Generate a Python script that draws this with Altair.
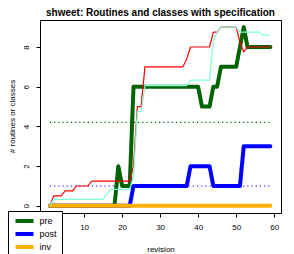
import altair as alt
import pandas as pd

revision = [1, 2, 3, 4, 5, 6, 7, 8, 9, 10, 11, 12, 13, 14, 15, 16, 17, 18, 19, 20,
            21, 22, 23, 24, 25, 26, 27, 28, 29, 30, 31, 32, 33, 34, 35, 36, 37, 38, 39, 40,
            41, 42, 43, 44, 45, 46, 47, 48, 49, 50, 51, 52, 53, 54, 55, 56, 57, 58, 59]

pre = [0, 0, 0, 0, 0, 0, 0, 0, 0, 0, 0, 0, 0, 0, 0, 0, 0, 0, 2, 1,
       1, 1, 6, 6, 6, 6, 6, 6, 6, 6, 6, 6, 6, 6, 6, 6, 6, 6, 6, 6,
       5, 5, 5, 6, 6, 7, 7, 7, 7, 7, 8, 9, 8, 8, 8, 8, 8, 8, 8]

post = [0, 0, 0, 0, 0, 0, 0, 0, 0, 0, 0, 0, 0, 0, 0, 0, 0, 0, 0, 0,
        0, 0, 1, 1, 1, 1, 1, 1, 1, 1, 1, 1, 1, 1, 1, 1, 1, 2, 2, 2,
        2, 2, 2, 1, 1, 1, 1, 1, 1, 1, 1, 3, 3, 3, 3, 3, 3, 3, 3]

inv = [0, 0, 0, 0, 0, 0, 0, 0, 0, 0, 0, 0, 0, 0, 0, 0, 0, 0, 0, 0,
       0, 0, 0, 0, 0, 0, 0, 0, 0, 0, 0, 0, 0, 0, 0, 0, 0, 0, 0, 0,
       0, 0, 0, 0, 0, 0, 0, 0, 0, 0, 0, 0, 0, 0, 0, 0, 0, 0, 0]

red_line = [0, 0.5, 0.5, 0.5, 0.75, 0.75, 0.75, 1.0, 1.0, 1.0, 1.0, 1.25, 1.25, 1.25, 1.25,
            1.25, 1.25, 1.25, 1.25, 1.25, 1.25, 1.25, 2.0, 5.0, 5.0, 7.0, 7.0, 7.0, 7.0, 7.0,
            7.0, 7.0, 7.0, 7.0, 7.0, 7.0, 7.4, 8.0, 8.0, 8.0, 8.0, 8.0, 8.0, 8.75, 8.75,
            9.0, 9.0, 9.0, 9.0, 9.0, 8.25, 7.75, 8.0, 8.0, 8.0, 8.0, 8.0, 8.0, 8.0]

aqua_line = [0, 0.33, 0.33, 0.33, 0.33, 0.33, 0.33, 0.33, 0.33, 0.33, 0.33, 0.33, 0.33, 0.33, 0.33,
             0.6, 0.83, 0.83, 0.83, 0.83, 0.83, 0.83, 1.5, 4.75, 4.75, 6.05, 6.05, 6.05, 6.05, 6.05,
             6.05, 6.05, 6.05, 6.05, 6.05, 6.05, 6.05, 6.33, 6.33, 6.33, 6.33, 6.33, 6.33, 8.33, 8.75,
             9.0, 9.0, 9.0, 9.0, 9.0, 8.75, 8.75, 8.75, 8.75, 8.75, 8.75, 8.6, 8.6, 8.6]

series_names = ["pre", "post", "inv"]
series_colors = ["#006400", "#0000FF", "#FFB000"]

rows = []
for name, vals in zip(series_names, [pre, post, inv]):
    for r, v in zip(revision, vals):
        rows.append({"revision": r, "value": v, "series": name})
thick = pd.DataFrame(rows)

thin = pd.DataFrame({"revision": revision, "red": red_line, "aqua": aqua_line})

FONT = "Liberation Sans"

xscale = alt.Scale(domain=[-1.6, 61.8], nice=False, zero=False)
yscale = alt.Scale(domain=[-0.36, 9.36], nice=False, zero=False)
cscale = alt.Scale(domain=series_names, range=series_colors)

xaxis = alt.Axis(values=[0, 10, 20, 30, 40, 50, 60], title="revision", grid=False, domain=False,
                 labelExpr="datum.value == 0 ? '' : datum.label",
                 tickSize=4, tickColor="black", labelFontSize=8, labelFont=FONT, labelColor="black",
                 labelPadding=6, titleFontSize=8, titleFont=FONT, titleFontWeight="normal",
                 titleColor="black", titleY=38, titleBaseline="alphabetic")
yaxis = alt.Axis(values=[0, 2, 4, 6, 8], title="# routines or classes", grid=False, domain=False,
                 tickSize=4, tickColor="black", labelFontSize=8, labelFont=FONT, labelColor="black",
                 labelAngle=270, labelAlign="center", labelBaseline="alphabetic", labelPadding=8,
                 titleFontSize=8, titleFont=FONT, titleFontWeight="normal", titleColor="black",
                 titleAngle=270, titleX=-28, titleY=96, titleAlign="center", titleBaseline="middle")

legend = alt.Legend(title=None, orient="none", legendX=-32, legendY=191,
                    symbolType="M-3,0L3,0", symbolSize=36, symbolStrokeWidth=4,
                    symbolOffset=6.5, labelOffset=10,
                    labelFontSize=9, labelFont=FONT, labelColor="black",
                    padding=5, rowPadding=-6.5,
                    strokeColor="black", fillColor="white", cornerRadius=0)

base = alt.Chart(thick)

means = base.mark_rule(strokeDash=[1.2, 3], strokeWidth=1.2).encode(
    x=alt.X("min(revision):Q", scale=xscale, axis=xaxis),
    x2="max(revision):Q",
    y=alt.Y("mean(value):Q", scale=yscale, axis=yaxis),
    stroke=alt.Stroke("series:N", scale=cscale, sort=series_names, legend=legend),
)

lines = base.mark_line(strokeWidth=4, strokeCap="round", strokeJoin="round").encode(
    x=alt.X("revision:Q", scale=xscale, axis=xaxis),
    y=alt.Y("value:Q", scale=yscale, axis=yaxis),
    stroke=alt.Stroke("series:N", scale=cscale, sort=series_names, legend=legend),
)

red = alt.Chart(thin).mark_line(color="red", strokeWidth=1.2, strokeJoin="round").encode(
    x=alt.X("revision:Q", scale=xscale), y=alt.Y("red:Q", scale=yscale))
aqua = alt.Chart(thin).mark_line(color="#7FFFD4", strokeWidth=1.2, strokeJoin="round").encode(
    x=alt.X("revision:Q", scale=xscale), y=alt.Y("aqua:Q", scale=yscale))

chart = alt.layer(means, lines, red, aqua).properties(
    width=241, height=193,
    title=alt.TitleParams("shweet: Routines and classes with specification", font=FONT,
                          fontSize=10, fontWeight="bold", color="black", anchor="middle",
                          frame="group", baseline="alphabetic", offset=-6),
    autosize=alt.AutoSizeParams(type="none"),
    padding={"left": 32, "top": 12, "right": 5, "bottom": 41},
).configure_view(stroke="black", strokeWidth=1)

chart.save("out.html", embed_options={"renderer": "svg", "actions": False})
